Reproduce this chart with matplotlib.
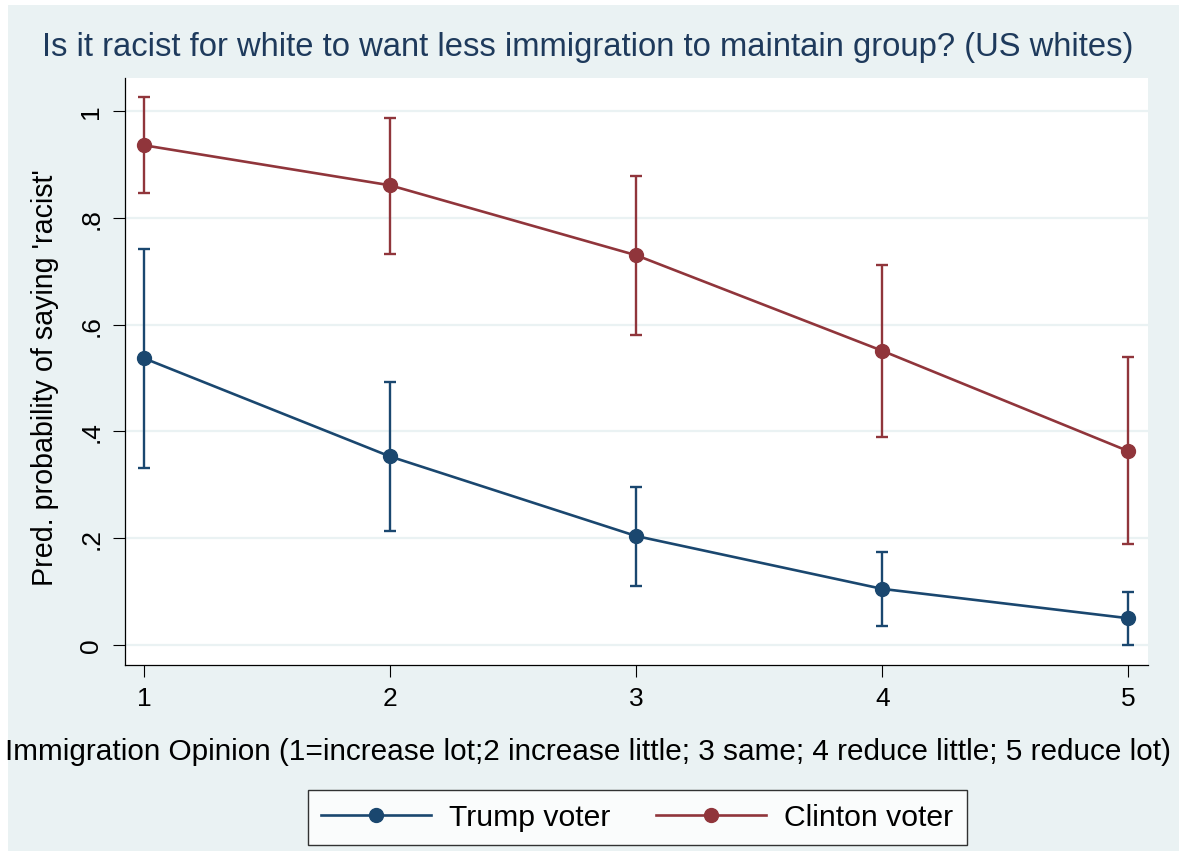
import numpy as np
import matplotlib
matplotlib.use("Agg")
import matplotlib.pyplot as plt
from matplotlib.patches import Rectangle

plt.rcParams["font.family"] = ["Liberation Sans", "DejaVu Sans"]

# Data
opinion = [1, 2, 3, 4, 5]
trump = [0.537, 0.353, 0.204, 0.105, 0.050]
trump_lo = [0.332, 0.213, 0.111, 0.036, 0.000]
trump_hi = [0.742, 0.493, 0.295, 0.174, 0.099]
clinton = [0.936, 0.861, 0.730, 0.551, 0.363]
clinton_lo = [0.846, 0.733, 0.581, 0.390, 0.189]
clinton_hi = [1.026, 0.987, 0.878, 0.711, 0.540]
yticks = [0, 0.2, 0.4, 0.6, 0.8, 1.0]
yticklabels = ["0", ".2", ".4", ".6", ".8", "1"]

navy = "#1a476f"
maroon = "#90353b"
bg = "#eaf2f3"

fig = plt.figure(figsize=(11.85, 8.53), dpi=100, facecolor="white")
fig.patches.append(
    Rectangle((0.0068, 0.0012), 0.9882, 0.9918, transform=fig.transFigure,
              facecolor=bg, edgecolor="none", zorder=-10)
)

ax = fig.add_axes([0.1055, 0.2196, 0.8633, 0.6878])
ax.set_facecolor("white")

for y, lo, hi, col, lab in [
    (trump, trump_lo, trump_hi, navy, "Trump voter"),
    (clinton, clinton_lo, clinton_hi, maroon, "Clinton voter"),
]:
    y = np.array(y)
    yerr = [y - np.array(lo), np.array(hi) - y]
    ax.errorbar(opinion, y, yerr=yerr, fmt="none", ecolor=col,
                elinewidth=1.7, capsize=4.6, capthick=1.7, zorder=3)
    ax.plot(opinion, y, color=col, lw=1.9, marker="o", ms=10,
            mec=col, mfc=col, label=lab, zorder=4)

ax.set_xlim(0.923, 5.08)
ax.set_ylim(-0.037, 1.062)
ax.set_xticks(opinion)
ax.set_yticks(yticks)
ax.set_yticklabels(yticklabels, rotation=90, va="center")
ax.grid(axis="y", color=bg, lw=1.6)
ax.set_axisbelow(True)

for s in ["top", "right"]:
    ax.spines[s].set_visible(False)
for s in ["left", "bottom"]:
    ax.spines[s].set_color("black")
    ax.spines[s].set_linewidth(0.9)
ax.tick_params(axis="both", length=8.6, width=0.8, color="black",
               labelsize=19, pad=7)

fig.text(0.496, 0.944, "Is it racist for white to want less immigration to maintain group? (US whites)",
         ha="center", va="center", fontsize=23.6, color="#1e3a5c")
fig.text(0.4966, 0.118,
         "Immigration Opinion (1=increase lot;2 increase little; 3 same; 4 reduce little; 5 reduce lot)",
         ha="center", va="center", fontsize=21.4)
fig.text(0.038, 0.557, "Pred. probability of saying 'racist'", rotation=90,
         ha="center", va="center", fontsize=20.6)

leg = fig.legend(loc="center", bbox_to_anchor=(0.5376, 0.0405), ncol=2,
                 fontsize=21.7, frameon=True, fancybox=False, handlelength=3.65,
                 columnspacing=1.5, handletextpad=0.6, borderpad=0.45,
                 borderaxespad=0.0)
leg.get_frame().set_edgecolor("black")
leg.get_frame().set_linewidth(1.0)
leg.get_frame().set_facecolor("white")

fig.savefig("out.png", dpi=100, facecolor="white")
